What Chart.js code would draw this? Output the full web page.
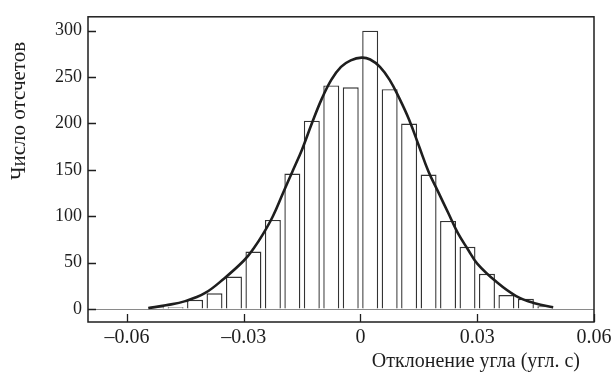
<!DOCTYPE html>
<html>
<head>
 <meta charset="UTF-8">
 <title>Распределение отклонений угла</title>
 <script src="https://cdn.jsdelivr.net/npm/chart.js@4/dist/chart.umd.min.js"></script>
 <style>
  body { margin: 0; background: #ffffff; }
  #box { width: 616px; height: 381px; }
 </style>
</head>
<body>
<div id="box"><canvas id="histChart"></canvas></div>

<script>
 // histogram bins: centre of each bin (угл. с) and the number of counts in it
 var binCenters = [-0.0525, -0.0475, -0.0425, -0.0375, -0.0325, -0.0275, -0.0225, -0.0175, -0.0125, -0.0075, -0.0025,
                   0.0025, 0.0075, 0.0125, 0.0175, 0.0225, 0.0275, 0.0325, 0.0375, 0.0425, 0.0475];
 var binCounts  = [2, 2, 10, 17, 35, 62, 96, 146, 203, 241, 239,
                   300, 237, 200, 145, 95, 67, 38, 15, 11, 3];

 // fitted curve, points
 var curveX = [-0.0545, -0.05, -0.045, -0.04, -0.035, -0.03, -0.0275, -0.025, -0.0225, -0.02, -0.0175, -0.015, -0.0125, -0.01,
               -0.0075, -0.005, -0.0025, 0.0003, 0.0025, 0.005, 0.0075, 0.01, 0.0125, 0.015, 0.0175, 0.02, 0.0225,
               0.025, 0.0275, 0.03, 0.035, 0.04, 0.045, 0.0495];
 var curveY = [1, 4, 8.5, 17, 33, 52, 65, 81, 100, 124, 148, 172, 200, 226,
               247, 261, 268, 271, 269, 261, 247, 227, 204, 176, 148, 126, 104,
               82, 65, 49, 29, 14, 6, 2];

 var xTicks = [-0.06, -0.03, 0, 0.03, 0.06];
 var yTicks = [0, 50, 100, 150, 200, 250, 300];

 var xTitle = "Отклонение угла (угл. с)";
 var yTitle = "Число отсчетов";

 var serif = "'Liberation Serif', 'DejaVu Serif', serif";
 var ink = "#1e1e1e";

 var barPoints = [];
 for (i = 0; i < binCenters.length; i++) barPoints.push({ x: binCenters[i], y: binCounts[i] });
 var curvePoints = [];
 for (i = 0; i < curveX.length; i++) curvePoints.push({ x: curveX[i], y: curveY[i] });

 // frame round the plot, inward tick marks and both axis titles
 var frameAndTicks = {
  id: "frameAndTicks",
  afterDraw: function(chart)
  {
   var c = chart.ctx, a = chart.chartArea;
   var sx = chart.scales.x, sy = chart.scales.y;
   c.save();
   c.strokeStyle = ink;
   c.lineWidth = 1.5;
   c.strokeRect(a.left, a.top, a.right - a.left, a.bottom - a.top);
   c.lineWidth = 1.3;
   c.beginPath();
   xTicks.forEach(function(v) {
     var px = Math.round(sx.getPixelForValue(v)) + 0.5;
     c.moveTo(px, a.bottom); c.lineTo(px, a.bottom - 8);
   });
   yTicks.forEach(function(v) {
     var py = Math.round(sy.getPixelForValue(v)) + 0.5;
     c.moveTo(a.left, py); c.lineTo(a.left + 8, py);
   });
   c.stroke();
   c.fillStyle = ink;
   c.font = "20px " + serif;
   c.textAlign = "right";
   c.textBaseline = "middle";
   c.fillText(xTitle, a.right - 14, a.bottom + 40);
   c.font = "21px " + serif;
   c.textAlign = "center";
   c.translate(19, 111);
   c.rotate(-Math.PI / 2);
   c.fillText(yTitle, 0, 0);
   c.restore();
  }
 };

 var ctx = document.getElementById("histChart");
 var histChart = new Chart(ctx, {
  data: {
   datasets: [
    { type: "line", data: curvePoints, borderColor: ink, borderWidth: 2.6, pointRadius: 0,
      fill: false, tension: 0.4, order: 0 },
    { type: "bar", data: barPoints, backgroundColor: "#ffffff", borderColor: "#333333", borderWidth: 1.4,
      barPercentage: 0.82, categoryPercentage: 1, order: 1 }
   ]
  },
  options: {
   responsive: true,
   maintainAspectRatio: false,
   animation: false,
   layout: { padding: { top: 13, right: 22, left: 0, bottom: 0 } },
   plugins: { legend: { display: false }, tooltip: { enabled: false } },
   scales: {
    x: {
     type: "linear", min: -0.07, max: 0.06, offset: false,
     afterBuildTicks: function(s) { s.ticks = xTicks.map(function(v) { return { value: v }; }); },
     afterFit: function(s) { s.height = 59; },
     grid: { display: false, drawTicks: false },
     border: { display: false },
     ticks: { color: ink, padding: 4, maxRotation: 0, autoSkip: false,
              font: { family: serif, size: 20 },
              callback: function(v) { return v == 0 ? "0" : (v < 0 ? "–" : "") + Math.abs(v).toFixed(2); } }
    },
    y: {
     min: -14, max: 315,
     afterBuildTicks: function(s) { s.ticks = yTicks.map(function(v) { return { value: v }; }); },
     afterFit: function(s) { s.width = 88; },
     grid: { drawTicks: false, lineWidth: 1,
             color: function(c) { return c.tick && c.tick.value === 0 ? "#8a8a8a" : "rgba(0,0,0,0)"; } },
     border: { display: false },
     ticks: { color: ink, padding: 6, font: { family: serif, size: 18 } }
    }
   }
  },
  plugins: [frameAndTicks]
 });
</script>
</body>
</html>
